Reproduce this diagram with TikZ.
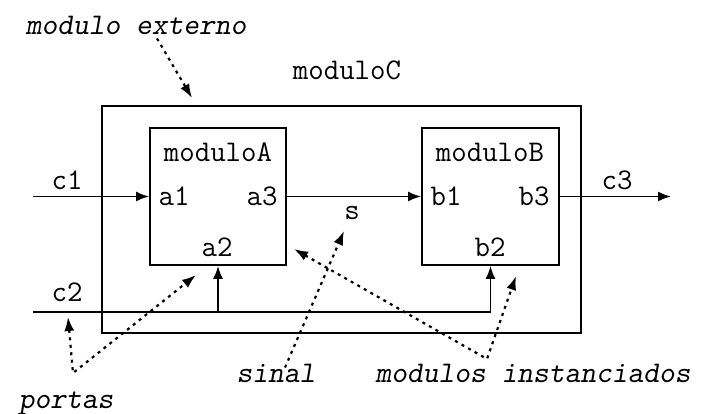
\documentclass[tikz,border=0pt]{standalone}
\usetikzlibrary{arrows.meta}
\tikzset{
  modbox/.style={draw,line width=1.8pt,inner sep=0pt},
  wire/.style={line width=1.8pt},
  wirein/.style={wire,-{Latex[length=13pt,width=10pt]}},
  note/.style={line width=2.2pt,dash pattern=on 3pt off 4.5pt,
    -{Latex[length=14pt,width=10pt]}},
  notetwo/.style={note,{Latex[length=14pt,width=10pt]}-{Latex[length=14pt,width=10pt]}},
  lbl/.style={inner sep=0pt},
  cmt/.style={lbl,font=\ttfamily\slshape\fontsize{30}{34}\selectfont}
}

\begin{document}
\begin{tikzpicture}[x=1pt,y=-1pt,font=\ttfamily\fontsize{30}{34}\selectfont]
    \useasboundingbox (0,0) rectangle (701,414);
    % modules
    \node[modbox,minimum width=479pt,minimum height=227pt] (modC) at (341.5,219.5) {};
    \node[modbox,minimum width=136pt,minimum height=137pt] (modA) at (218,196.5) {};
    \node[modbox,minimum width=137pt,minimum height=137pt] (modB) at (490.5,196.5) {};
    \node[lbl] (nameC) at (347,70) {moduloC};
    \node[lbl] (nameA) at (218,152) {moduloA};
    \node[lbl] (nameB) at (490,152) {moduloB};
    % ports
    \node[lbl] (a1) at (174,196) {a1};
    \node[lbl] (a3) at (262,196) {a3};
    \node[lbl] (a2) at (217,247) {a2};
    \node[lbl] (b1) at (446,196) {b1};
    \node[lbl] (b3) at (534,196) {b3};
    \node[lbl] (b2) at (490,247) {b2};
    \node[lbl] (c1) at (67,180) {c1};
    \node[lbl] (c2) at (67,292) {c2};
    \node[lbl] (c3) at (617,180) {c3};
    \node[lbl] (s) at (352,213) {s};
    % wires
    \coordinate (c1in) at (33,196.5);
    \coordinate (c2in) at (33,312);
    \coordinate (c3out) at (671,196.5);
    \draw[wirein] (c1in) -- (modA.west);
    \draw[wirein] (modA.east) -- (modB.west);
    \draw[wirein] (modB.east) -- (c3out);
    \draw[wirein] (c2in) -- (modB.south |- c2in) -- (modB.south);
    \draw[wirein] (modA.south |- c2in) -- (modA.south);
    % comments
    \node[cmt] (ext) at (136,25) {modulo externo};
    \node[cmt,anchor=base] (portas) at (66,408) {portas};
    \node[cmt,anchor=base] (sinal) at (276,382) {sinal};
    \node[cmt,anchor=base] (inst) at (533,382) {modulos instanciados};
    \coordinate (extTip) at (192,98);
    \coordinate (portVx) at (73,373);
    \coordinate (instVx) at (487,359);
    \draw[note] ([xshift=21pt,yshift=-4pt]ext.south) -- (extTip);
    \draw[notetwo] (68,317) -- (portVx) -- (196,275);
    \draw[note] ([xshift=9pt,yshift=-4pt]sinal.north) -- (344,231);
    \draw[notetwo] (294,249) -- (instVx) -- (516,276);
\end{tikzpicture}
\end{document}
